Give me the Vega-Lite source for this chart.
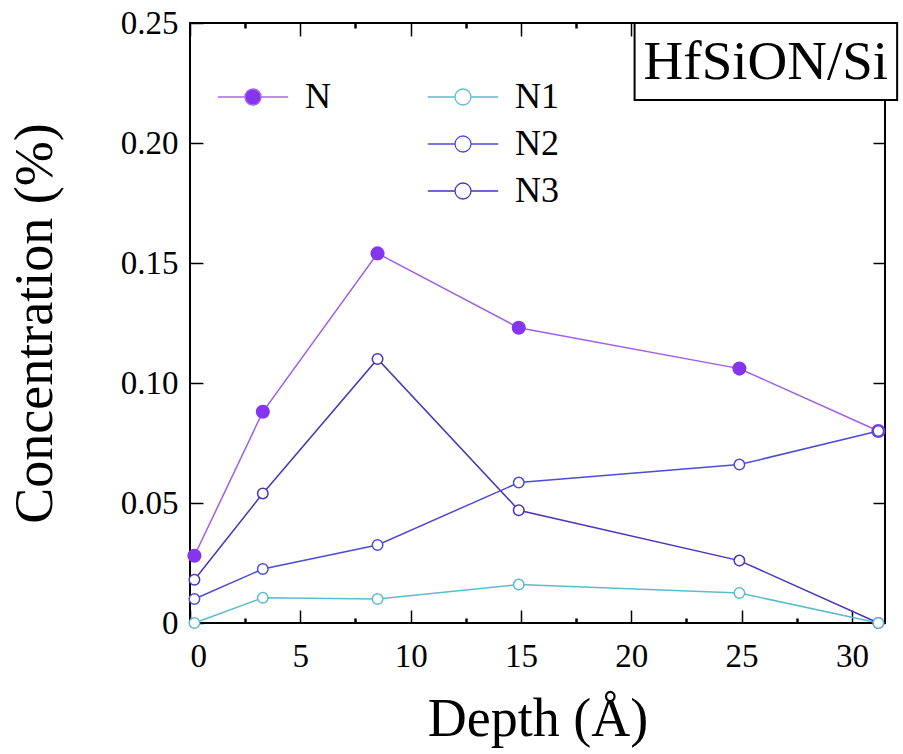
{
  "$schema": "https://vega.github.io/schema/vega-lite/v6.json",
  "width": 695,
  "height": 600,
  "autosize": {"type": "none"},
  "padding": {"left": 190, "top": 23, "right": 18, "bottom": 131},
  "background": "white",
  "config": {
    "view": {"stroke": "black", "strokeWidth": 2},
    "font": "Liberation Serif",
    "axis": {
      "labelFont": "Liberation Serif",
      "labelFontSize": 33,
      "labelColor": "black",
      "tickColor": "black",
      "tickWidth": 1.5,
      "grid": false,
      "domain": false,
      "titleFont": "Liberation Serif",
      "titleFontWeight": "normal",
      "titleColor": "black"
    }
  },
  "datasets": {
    "main": [
      {"series": "N", "depth": 0.2, "conc": 0.028},
      {"series": "N", "depth": 3.3, "conc": 0.088},
      {"series": "N", "depth": 8.5, "conc": 0.154},
      {"series": "N", "depth": 14.9, "conc": 0.123},
      {"series": "N", "depth": 24.9, "conc": 0.106},
      {"series": "N", "depth": 31.2, "conc": 0.080},
      {"series": "N3", "depth": 0.2, "conc": 0.018},
      {"series": "N3", "depth": 3.3, "conc": 0.054},
      {"series": "N3", "depth": 8.5, "conc": 0.110},
      {"series": "N3", "depth": 14.9, "conc": 0.047},
      {"series": "N3", "depth": 24.9, "conc": 0.026},
      {"series": "N3", "depth": 31.2, "conc": 0.0},
      {"series": "N2", "depth": 0.2, "conc": 0.010},
      {"series": "N2", "depth": 3.3, "conc": 0.0225},
      {"series": "N2", "depth": 8.5, "conc": 0.0325},
      {"series": "N2", "depth": 14.9, "conc": 0.0585},
      {"series": "N2", "depth": 24.9, "conc": 0.066},
      {"series": "N2", "depth": 31.2, "conc": 0.080},
      {"series": "N1", "depth": 0.2, "conc": 0.0},
      {"series": "N1", "depth": 3.3, "conc": 0.0105},
      {"series": "N1", "depth": 8.5, "conc": 0.010},
      {"series": "N1", "depth": 14.9, "conc": 0.016},
      {"series": "N1", "depth": 24.9, "conc": 0.0125},
      {"series": "N1", "depth": 31.2, "conc": 0.0}
    ]
  },
  "data": {"name": "main"},
  "layer": [
    {
      "transform": [{"filter": "datum.series === 'N'"}],
      "mark": {"type": "line", "color": "#a05ee6", "strokeWidth": 1.5},
      "encoding": {
        "x": {
          "field": "depth", "type": "quantitative",
          "scale": {"domain": [0, 31.5], "nice": false, "zero": false},
          "axis": {"orient": "bottom", "values": [0, 5, 10, 15, 20, 25, 30], "tickSize": 13, "offset": -13, "labelPadding": 17, "title": "Depth (Å)", "titleFontSize": 54, "titlePadding": 19}
        },
        "y": {
          "field": "conc", "type": "quantitative",
          "scale": {"domain": [0, 0.25], "nice": false},
          "axis": {"orient": "left", "values": [0, 0.05, 0.1, 0.15, 0.2, 0.25], "labelExpr": "datum.value == 0 ? '0' : format(datum.value, '.2f')", "tickSize": 13, "offset": -13, "labelPadding": 12, "title": "Concentration (%)", "titleFontSize": 54, "titlePadding": 58}
        }
      }
    },
    {
      "transform": [{"filter": "datum.series === 'N'"}],
      "mark": {"type": "point", "filled": true, "size": 200, "opacity": 1},
      "encoding": {
        "x": {
          "field": "depth", "type": "quantitative",
          "scale": {"domain": [0, 31.5], "nice": false, "zero": false},
          "axis": {"orient": "top", "values": [0, 5, 10, 15, 20, 25, 30], "tickSize": 13, "offset": -13, "labels": false, "title": null}
        },
        "y": {
          "field": "conc", "type": "quantitative",
          "scale": {"domain": [0, 0.25], "nice": false},
          "axis": {"orient": "right", "values": [0, 0.05, 0.1, 0.15, 0.2, 0.25], "tickSize": 12, "offset": -12, "labels": false, "title": null}
        },
        "fill": {
          "field": "series", "type": "nominal",
          "scale": {"domain": ["N"], "range": ["#8535ee"]},
          "legend": {
            "orient": "none", "legendX": 45, "legendY": 56, "title": null,
            "symbolType": "M-4.4,0L-1,0M1,0L4.4,0M-1,0A1,1,0,1,0,1,0A1,1,0,1,0,-1,0Z",
            "symbolSize": 256,
            "symbolStrokeColor": "#a868ea",
            "symbolStrokeWidth": 1.5,
            "symbolFillColor": "#8535ee",
            "labelFontSize": 36, "labelFont": "Liberation Serif", "labelColor": "black", "labelOffset": 34,
            "encode": {"symbols": {"update": {"stroke": {"value": "#a868ea"}, "strokeWidth": {"value": 1.5}, "fill": {"value": "#8535ee"}, "opacity": {"value": 1}}}}
          }
        }
      }
    },
    {
      "transform": [{"filter": "datum.series !== 'N'"}],
      "mark": {"type": "line", "strokeWidth": 1.5},
      "encoding": {
        "x": {
          "field": "depth", "type": "quantitative",
          "scale": {"domain": [0, 31.5], "nice": false, "zero": false},
          "axis": {"orient": "bottom", "values": [2.5, 7.5, 12.5, 17.5, 22.5, 27.5], "tickSize": 5, "offset": -5, "tickWidth": 2.5, "labels": false, "title": null}
        },
        "y": {
          "field": "conc", "type": "quantitative",
          "scale": {"domain": [0, 0.25], "nice": false},
          "axis": null
        },
        "stroke": {
          "field": "series", "type": "nominal",
          "scale": {"domain": ["N1", "N2", "N3"], "range": ["#5cbccc", "#4c4cd6", "#4d32bc"]},
          "legend": null
        },
        "detail": {"field": "series"}
      }
    },
    {
      "transform": [{"filter": "datum.series !== 'N'"}],
      "mark": {"type": "point", "filled": true, "fill": "white", "size": 110, "strokeWidth": 1.5, "opacity": 1},
      "encoding": {
        "x": {
          "field": "depth", "type": "quantitative",
          "scale": {"domain": [0, 31.5], "nice": false, "zero": false},
          "axis": {"orient": "top", "values": [2.5, 7.5, 12.5, 17.5, 22.5, 27.5], "tickSize": 5, "offset": -5, "tickWidth": 2.5, "labels": false, "title": null}
        },
        "y": {
          "field": "conc", "type": "quantitative",
          "scale": {"domain": [0, 0.25], "nice": false},
          "axis": null
        },
        "stroke": {
          "field": "series", "type": "nominal",
          "scale": {"domain": ["N1", "N2", "N3"], "range": ["#5cbccc", "#4c4cd6", "#4d32bc"]},
          "legend": {
            "orient": "none", "legendX": 255, "legendY": 56, "title": null,
            "symbolType": "M-4.4,0L-1,0M1,0L4.4,0M-1,0A1,1,0,1,0,1,0A1,1,0,1,0,-1,0Z",
            "symbolSize": 256, "rowPadding": 11,
            "symbolFillColor": "white",
            "symbolStrokeWidth": 1.3,
            "labelFontSize": 36, "labelFont": "Liberation Serif", "labelColor": "black", "labelOffset": 34,
            "encode": {"symbols": {"update": {"fill": {"value": "white"}, "strokeWidth": {"value": 1.3}, "opacity": {"value": 1}}}}
          }
        }
      }
    },
    {
      "data": {"values": [{"label": "HfSiON/Si"}]},
      "mark": {"type": "rect", "fill": "white", "stroke": "black", "strokeWidth": 2},
      "encoding": {
        "x": {"datum": 20.15, "type": "quantitative", "axis": null},
        "x2": {"datum": 32.05},
        "y": {"datum": 0.25, "type": "quantitative", "axis": null},
        "y2": {"datum": 0.2179}
      }
    },
    {
      "data": {"values": [{"label": "HfSiON/Si"}]},
      "mark": {"type": "text", "font": "Liberation Serif", "fontSize": 55, "color": "black", "align": "center", "baseline": "middle"},
      "encoding": {
        "x": {"datum": 26.1, "type": "quantitative", "axis": null},
        "y": {"datum": 0.2338, "type": "quantitative", "axis": null},
        "text": {"field": "label"}
      }
    }
  ],
  "resolve": {
    "axis": {"x": "independent", "y": "independent"},
    "legend": {"fill": "independent", "stroke": "independent"}
  }
}
